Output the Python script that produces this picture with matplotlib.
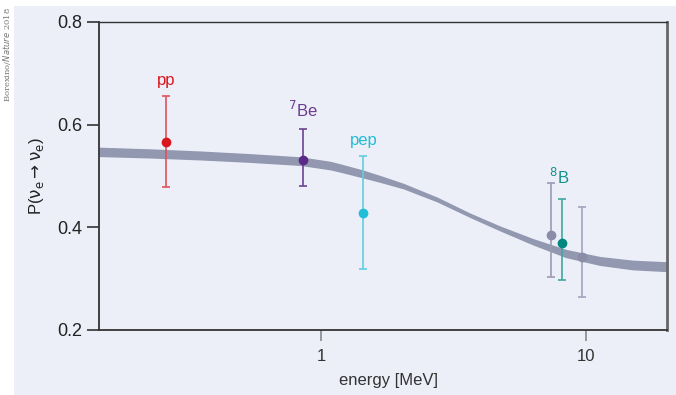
import matplotlib
matplotlib.use("Agg")
import matplotlib.pyplot as plt
from matplotlib.patches import Rectangle

plt.rcParams["font.family"] = ["Liberation Sans", "DejaVu Sans"]
plt.rcParams["mathtext.fontset"] = "dejavusans"

# band (MSW-LMA prediction)
band_e = [0.145, 0.226, 0.35, 0.54, 0.833, 1.08, 1.18, 1.43, 1.67, 2.04, 2.74,
          3.65, 4.74, 6.31, 8.4, 11.3, 15.0, 20.2]
band_mid = [0.547, 0.544, 0.540, 0.535, 0.529, 0.5204, 0.5156, 0.5043, 0.4943, 0.4805,
            0.4542, 0.4234, 0.3977, 0.3718, 0.349, 0.3344, 0.3266, 0.3233]
band_half = [0.0092, 0.009, 0.0088, 0.0086, 0.0085, 0.0084, 0.0082, 0.0078, 0.0068,
             0.0055, 0.0048, 0.0044, 0.0049, 0.0063, 0.0081, 0.0088, 0.0095, 0.0097]

# measurements
names = ["pp", "$^7$Be", "pep", "", "$^8$B", ""]
energy = [0.26, 0.853, 1.44, 7.36, 8.1, 9.69]
prob = [0.566, 0.531, 0.428, 0.386, 0.369, 0.342]
err_lo = [0.479, 0.480, 0.319, 0.303, 0.297, 0.264]
err_hi = [0.656, 0.591, 0.538, 0.486, 0.456, 0.439]
colors = ["#d9161f", "#5b2a86", "#22bdd6", "#8a8ca8", "#00877d", "#8a8ca8"]
err_colors = ["#e0525a", "#6a4494", "#5fcfe2", "#9a9cb4", "#3fa8a0", "#a2a4bc"]
label_xy = [(0.26, 0.687), (0.85, 0.629), (1.45, 0.570), None, (7.9, 0.498), None]
label_colors = ["#d9161f", "#6b3a92", "#22bdd6", None, "#14928a", None]

bg = "#edeff8"
fig = plt.figure(figsize=(6.76, 3.95), dpi=100)
fig.patches.append(Rectangle((14 / 676, 0), 1, 1 - 6 / 395, transform=fig.transFigure,
                             facecolor=bg, edgecolor="none", zorder=-10))
ax = fig.add_axes([99 / 676, 1 - 330 / 395, (667 - 99) / 676, (330 - 22) / 395])
ax.set_facecolor(bg)

lo = [m - h for m, h in zip(band_mid, band_half)]
hi = [m + h for m, h in zip(band_mid, band_half)]
ax.fill_between(band_e, lo, hi, color="#9298b0", lw=0, zorder=1)

for i in range(len(energy)):
    ax.errorbar(energy[i], prob[i],
                yerr=[[prob[i] - err_lo[i]], [err_hi[i] - prob[i]]],
                fmt="none", ecolor=err_colors[i], elinewidth=1.2,
                capsize=3, capthick=1.2, zorder=2)
    ax.plot(energy[i], prob[i], "o", color=colors[i], ms=6, zorder=3)
    if label_xy[i] is not None:
        ax.text(label_xy[i][0], label_xy[i][1], names[i], color=label_colors[i],
                fontsize=12, ha="center", va="center")

ax.set_xscale("log")
ax.set_xlim(0.145, 20.2)
ax.set_ylim(0.2, 0.8)
ax.set_xticks([1, 10])
ax.set_xticklabels(["1", "10"])
ax.xaxis.set_minor_locator(matplotlib.ticker.NullLocator())
ax.set_yticks([0.2, 0.4, 0.6, 0.8])
ax.set_yticklabels(["0.2", "0.4", "0.6", "0.8"])
ax.tick_params(axis="y", direction="out", length=9, width=1.2, color="#333333",
               labelsize=13, pad=3, labelcolor="#222222")
ax.tick_params(axis="x", direction="out", length=8, width=1.2, color="#888888",
               labelsize=12, pad=6, labelcolor="#333333")

for side in ["left", "bottom", "top"]:
    ax.spines[side].set_color("#333333")
    ax.spines[side].set_linewidth(1.3)
ax.spines["top"].set_linewidth(1.0)
ax.spines["right"].set_color("#666666")
ax.spines["right"].set_linewidth(2)

ax.set_xlabel("energy [MeV]", fontsize=12, color="#333333", labelpad=4)
ax.xaxis.set_label_coords(0.51, -0.14)
ax.set_ylabel(r"P($\mathrm{\nu_e \rightarrow \nu_e}$)", fontsize=12, labelpad=8,
              color="#222222")

fig.text(0.011, 0.863, r"Borexino/$\it{Nature}$ 2018", rotation=90, fontsize=6,
         color="#777777", family="DejaVu Serif", ha="center", va="center")

fig.savefig("out.png", dpi=100)
